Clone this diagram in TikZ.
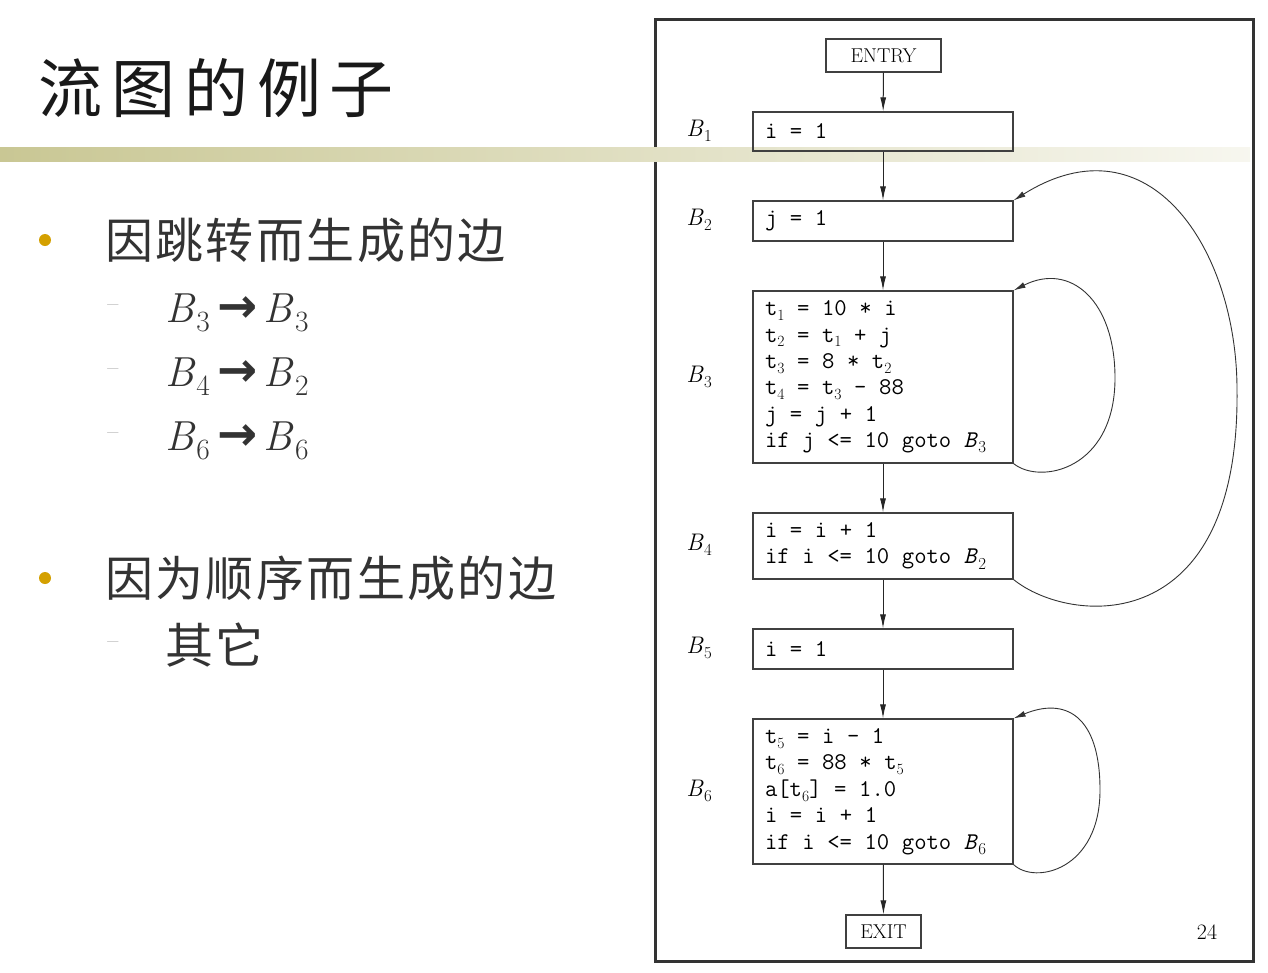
\documentclass[tikz,border=0pt]{standalone}
\usepackage{fontspec}
\usepackage{tikz}
\usetikzlibrary{arrows.meta,positioning}
\newfontfamily\cjk{Noto Sans CJK SC}
\newfontfamily\arrfont{DejaVu Sans}
\definecolor{barolive}{HTML}{C9C794}
\definecolor{bulletgold}{HTML}{D4A000}
\definecolor{slidetext}{HTML}{333333}
\newcommand{\bsub}[1]{\textit{B}\kern.02em\raisebox{-.22em}{\scalebox{.7}{\rmfamily\upshape #1}}}
\newcommand{\tsub}[1]{\raisebox{-.2em}{\scalebox{.65}{\rmfamily #1}}}
\protected\def\widespaces{\spaceskip=.525em\relax}

\begin{document}
\begin{tikzpicture}[x=1pt,y=-1pt,
 ar/.style={-{Latex[length=14pt,width=6pt]},draw=black!85,line width=1pt},
 bk/.style={-{Latex[length=12pt,width=6pt]},draw=black!80,line width=.9pt},
 blk/.style={draw=black!75,line width=1.2pt,minimum width=260pt,text width=236pt,align=left,
  inner xsep=12pt,inner ysep=0pt,font=\fontsize{24}{26.4}\selectfont\ttfamily,
  execute at begin node=\widespaces},
 endbox/.style={draw=black!75,line width=1.2pt,inner sep=0pt,font=\fontsize{20}{24}\selectfont},
 blab/.style={inner sep=0pt,font=\fontsize{24}{26}\selectfont},
 cjkline/.style={anchor=west,inner sep=0pt,text=slidetext,font=\fontsize{48}{56}\selectfont\cjk\addfontfeature{LetterSpace=5}},
 subline/.style={anchor=base west,inner sep=0pt,text=slidetext,font=\fontsize{42}{48}\selectfont},
 dashmark/.style={inner sep=0pt,text=black!45,font=\fontsize{24}{26}\selectfont}]
\useasboundingbox (0,0) rectangle (1268,972);
\fill[white] (0,0) rectangle (1268,972);

% title and bar
\node[anchor=west,inner sep=0pt,text=black!90,font=\fontsize{64}{70}\selectfont\cjk\addfontfeature{LetterSpace=14}] (title) at (38,88) {流图的例子};
\draw[line width=3pt,draw=black!80] (655,19) rectangle (1253,961);
\shade[left color=barolive,middle color=barolive!85!white,right color=barolive!15!white] (0,147) rectangle (1250,161);

% left column
\fill[bulletgold] (45,240) circle (6);
\node[cjkline] (jump) at (105,240) {因跳转而生成的边};
\foreach \y/\a/\b in {322/3/3,386/4/2,450/6/6}{
 \node[dashmark] at (113,\y-14) {–};
 \node[subline] (e\a\b) at (165,\y) {\bsub{\a}\hspace{8pt}{\arrfont\bfseries\fontsize{48}{48}\selectfont →}\hspace{6pt}\bsub{\b}};
}
\fill[bulletgold] (45,578) circle (6);
\node[cjkline] (seq) at (105,578) {因为顺序而生成的边};
\node[dashmark] at (113,645) {–};
\node[cjkline] (other) at (165,645) {其它};

% flow graph
\node[endbox,minimum width=115pt,minimum height=33pt] (entry) at (883.5,55.5) {ENTRY};
\node[blk,minimum height=39pt] (b1) at (883,131.5) {i = 1};
\node[blk,minimum height=40pt] (b2) at (883,221) {j = 1};
\node[blk,minimum height=172pt] (b3) at (883,377) {t\tsub{1} = 10 * i\\ t\tsub{2} = t\tsub{1} + j\\ t\tsub{3} = 8 * t\tsub{2}\\ t\tsub{4} = t\tsub{3} - 88\\ j = j + 1\\ if j <= 10 goto \bsub{3}};
\node[blk,minimum height=66pt] (b4) at (883,546) {i = i + 1\\ if i <= 10 goto \bsub{2}};
\node[blk,minimum height=40pt] (b5) at (883,649) {i = 1};
\node[blk,minimum height=145pt] (b6) at (883,791.5) {t\tsub{5} = i - 1\\ t\tsub{6} = 88 * t\tsub{5}\\ a[t\tsub{6}] = 1.0\\ i = i + 1\\ if i <= 10 goto \bsub{6}};
\node[endbox,minimum width=75pt,minimum height=33pt] (exit) at (883.5,931.5) {EXIT};

\foreach \n/\y in {1/131,2/220,3/377,4/545,5/648,6/791}
 \node[blab] (l\n) at (699,\y) {\bsub{\n}};
\node[font=\fontsize{22}{24}\selectfont,inner sep=0pt] (pnum) at (1207,932) {24};

\draw[ar] (entry) -- (b1);
\draw[ar] (b1) -- (b2);
\draw[ar] (b2) -- (b3);
\draw[ar] (b3) -- (b4);
\draw[ar] (b4) -- (b5);
\draw[ar] (b5) -- (b6);
\draw[ar] (b6) -- (exit);

% back edges
\draw[bk] (b3.south east) .. controls (1040,485) and (1115,470) .. (1115,378)
 .. controls (1115,300) and (1070,262) .. (b3.north east);
\draw[bk] (b4.south east) .. controls (1070,625) and (1240,640) .. (1237,390)
 .. controls (1237,250) and (1150,115) .. (b2.north east);
\draw[bk] (b6.south east) .. controls (1035,885) and (1100,870) .. (1100,790)
 .. controls (1100,715) and (1065,697) .. (b6.north east);
\end{tikzpicture}
\end{document}
